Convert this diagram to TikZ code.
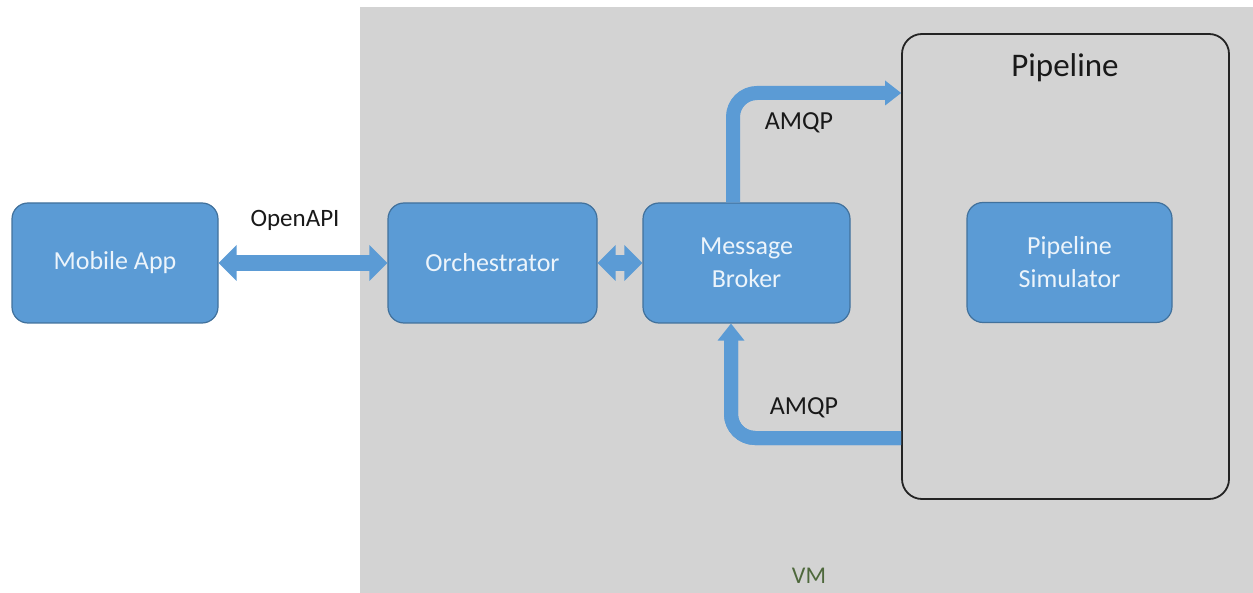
\documentclass[tikz,border=0pt]{standalone}
\usepackage{fontspec}
\setmainfont{Carlito}
\usetikzlibrary{arrows.meta}
\definecolor{boxblue}{RGB}{91,155,213}
\definecolor{boxedge}{RGB}{65,113,156}
\definecolor{vmgray}{RGB}{211,211,211}
\definecolor{vmgreen}{RGB}{78,104,60}
\definecolor{boxtext}{RGB}{236,244,251}
\definecolor{lbltext}{RGB}{25,25,25}
\definecolor{pipeedge}{RGB}{35,35,35}
\tikzset{
  blk/.style={draw=boxedge, line width=1.2pt, fill=boxblue, rounded corners=16pt,
    minimum height=120pt, text=boxtext, font=\fontsize{26}{33}\selectfont,
    align=center, inner sep=0pt},
  lbl/.style={text=lbltext, font=\fontsize{26}{31}\selectfont, inner sep=0pt},
  container/.style={draw=pipeedge, line width=1.8pt, rounded corners=20pt, inner sep=0pt},
  bigarrow/.style={draw=boxblue, line width=16pt,
    preaction={draw=boxblue, line width=16pt, arrows=-, shorten <=10pt, shorten >=10pt},
    {Triangle[width=36pt 0 0,length=18pt 0 0,line width=0pt 0 0]}-{Triangle[width=36pt 0 0,length=18pt 0 0,line width=0pt 0 0]}},
  amqparrow/.style={draw=boxblue, line width=14pt, rounded corners=24pt,
    preaction={draw=boxblue, line width=14pt, arrows=-, shorten >=10pt},
    -{Triangle[width=27pt 0 0,length=17pt 0 0,line width=0pt 0 0]}}
}
\begin{document}
\begin{tikzpicture}[x=1pt,y=-1pt]
\useasboundingbox (0,0) rectangle (1253,593);
\fill[vmgray] (360,7) rectangle (1253,593);
\node[text=vmgreen, font=\fontsize{24}{29}\selectfont, inner sep=0pt] (vm) at (809,576) {VM};

\node[container, minimum width=327pt, minimum height=465pt] (pipe) at (1065.5,266.5) {};
\node[lbl, font=\fontsize{33}{40}\selectfont] (pipetitle) at (1065,68) {Pipeline};

\node[blk, minimum width=206pt] (mobile) at (115,263) {Mobile App};
\node[blk, minimum width=209pt] (orch) at (492.5,263) {Orchestrator};
\node[blk, minimum width=207pt] (broker) at (746.5,263) {Message\\Broker};
\node[blk, minimum width=205pt] (sim) at (1069.5,262.5) {Pipeline\\Simulator};

\draw[bigarrow] (mobile.east) -- (orch.west);
\draw[bigarrow] (orch.east) -- (broker.west);
\node[lbl, font=\fontsize{25}{30}\selectfont] (openapi) at (295,220) {OpenAPI};

\draw[amqparrow, line width=13pt, preaction={line width=13pt},
  -{Triangle[width=25pt 0 0,length=16pt 0 0,line width=0pt 0 0]}]
  (733,0 |- broker.north) |- (pipe.west |- 0,93);
\node[lbl] (amqptop) at (799,123) {AMQP};

\draw[amqparrow] (pipe.west |- 0,438) -| (731,0 |- broker.south);
\node[lbl] (amqpbot) at (804,408) {AMQP};
\end{tikzpicture}
\end{document}
